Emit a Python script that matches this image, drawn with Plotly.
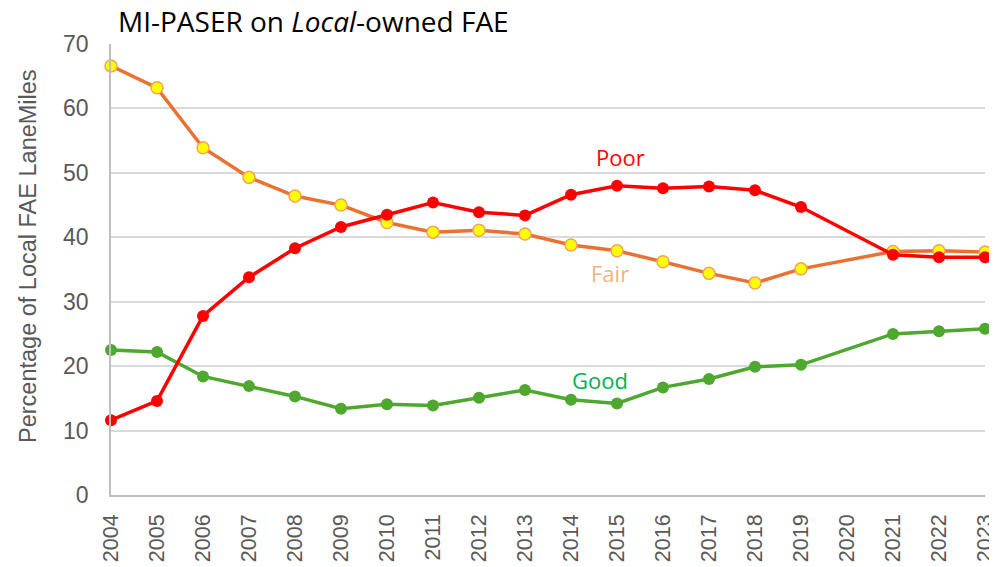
import plotly.graph_objects as go

years = list(range(2004, 2024))
poor = [11.6, 14.6, 27.8, 33.8, 38.3, 41.6, 43.5, 45.4, 43.9, 43.4, 46.6, 48.0, 47.6, 47.9, 47.3, 44.7, None, 37.3, 36.9, 36.9]
fair = [66.6, 63.2, 53.9, 49.3, 46.4, 45.0, 42.3, 40.8, 41.1, 40.5, 38.8, 37.9, 36.2, 34.4, 32.9, 35.1, None, 37.8, 37.9, 37.7]
good = [22.5, 22.2, 18.4, 16.9, 15.3, 13.4, 14.1, 13.9, 15.1, 16.3, 14.8, 14.2, 16.7, 18.0, 19.9, 20.2, None, 25.0, 25.4, 25.8]
tick_years = [str(y) for y in years]
y_ticks = [0, 10, 20, 30, 40, 50, 60, 70]

# page body has an 8px margin; figure fills the rest of the window
OFF = 8
W, H = 997 - OFF, 567 - OFF
L, T = 111 - OFF, 44 - OFF
R = W - (985 - OFF)
B = H - (495 - OFF)

fig = go.Figure()
fig.add_trace(go.Scatter(x=years, y=good, mode="lines+markers", name="Good",
                         connectgaps=True, cliponaxis=False,
                         line=dict(color="#4EA72E", width=3.5),
                         marker=dict(size=12, color="#4EA72E")))
fig.add_trace(go.Scatter(x=years, y=fair, mode="lines+markers", name="Fair",
                         connectgaps=True, cliponaxis=False,
                         line=dict(color="#E97132", width=3.5),
                         marker=dict(size=12, color="#FFFF00", line=dict(color="#F4A259", width=1.5))))
fig.add_trace(go.Scatter(x=years, y=poor, mode="lines+markers", name="Poor",
                         connectgaps=True, cliponaxis=False,
                         line=dict(color="#FF0000", width=3.5),
                         marker=dict(size=12, color="#FF0000")))

fig.add_annotation(x=2015.07, y=52.4, text="Poor", showarrow=False,
                   font=dict(family="Open Sans", size=22, color="#FF0000"))
fig.add_annotation(x=2014.85, y=34.5, text="Fair", showarrow=False,
                   font=dict(family="Open Sans", size=22, color="#F4B183"))
fig.add_annotation(x=2014.63, y=17.9, text="Good", showarrow=False,
                   font=dict(family="Open Sans", size=22, color="#00B050"))

# y-axis title (rotated text, slightly above plot centre as in reference)
fig.add_annotation(xref="paper", yref="paper", x=(28 - OFF - L) / (W - L - R),
                   y=(H - B - (256 - OFF)) / (H - T - B), xanchor="center", yanchor="middle",
                   text="Percentage of Local FAE LaneMiles", textangle=-90, showarrow=False,
                   font=dict(family="Liberation Sans", size=23.5, color="#595959"))

fig.update_layout(
    width=W, height=H,
    margin=dict(l=L, r=R, t=T, b=B, autoexpand=False),
    paper_bgcolor="white", plot_bgcolor="white",
    showlegend=False,
    title=dict(text="MI-PASER on <i>Local</i>-owned FAE", x=(118 - OFF) / W, xanchor="left",
               y=1 - (22 - OFF) / H, yanchor="middle",
               font=dict(family="Open Sans", size=28, color="#000000")),
)
fig.update_xaxes(range=[2004, 2023], tickmode="array", tickvals=years, ticktext=tick_years,
                 tickangle=-90, showgrid=False, showline=True, linecolor="#BFBFBF", linewidth=1.5,
                 ticks="", automargin=False, ticklabelstandoff=9, ticklabeloverflow="allow",
                 tickfont=dict(family="Liberation Sans", size=21.5, color="#595959"))
fig.update_yaxes(range=[0, 70], tickmode="array", tickvals=y_ticks,
                 showgrid=True, gridcolor="#D9D9D9", gridwidth=1.5,
                 showline=True, linecolor="#BFBFBF", linewidth=1.5, zeroline=False,
                 ticks="", automargin=False, ticklabelstandoff=16,
                 tickfont=dict(family="Liberation Sans", size=23, color="#595959"))

fig.write_html("out.html")
